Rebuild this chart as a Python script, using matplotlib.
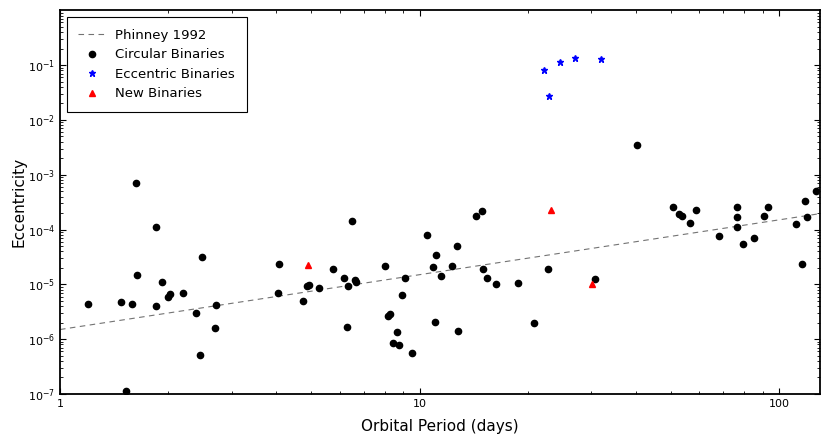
import numpy as np
import matplotlib
matplotlib.use("Agg")
import matplotlib.pyplot as plt
from matplotlib.ticker import FixedLocator, LogLocator, NullFormatter, FormatStrFormatter

# circular binaries: period (days), eccentricity
circ_period = [1.196, 1.478, 1.529, 1.582, 1.624, 1.635, 1.854, 1.854, 1.919, 2.002,
               2.024, 2.195, 2.390, 2.453, 2.480, 2.706, 2.718, 4.045, 4.078, 4.755,
               4.86, 4.932, 5.26, 5.727, 6.183, 6.264, 6.305, 6.509, 6.622, 6.678,
               8.04, 8.145, 8.286, 8.433, 8.667, 8.763, 8.948, 9.124, 9.543, 10.46,
               10.92, 11.04, 11.13, 11.51, 12.33, 12.71, 12.82, 14.36, 14.92, 15.01,
               15.37, 16.32, 18.74, 20.77, 22.71, 30.77, 40.35, 50.74, 52.6, 53.75,
               56.42, 58.65, 67.96, 76.43, 76.43, 76.6, 79.6, 85.0, 91.07, 93.3,
               111.1, 116.0, 117.7, 119.9, 126.3]
circ_ecc = [4.38e-6, 4.82e-6, 1.13e-7, 4.33e-6, 6.97e-4, 1.46e-5, 1.10e-4, 4.03e-6, 1.09e-5, 5.81e-6,
            6.75e-6, 7.05e-6, 3.0e-6, 5.21e-7, 3.11e-5, 1.60e-6, 4.26e-6, 7.05e-6, 2.38e-5, 4.91e-6,
            9.33e-6, 9.73e-6, 8.47e-6, 1.91e-5, 1.29e-5, 1.64e-6, 9.33e-6, 1.43e-4, 1.20e-5, 1.12e-5,
            2.16e-5, 2.68e-6, 2.88e-6, 8.41e-7, 1.33e-6, 7.92e-7, 6.31e-6, 1.29e-5, 5.60e-7, 8.03e-5,
            2.05e-5, 2.03e-6, 3.43e-5, 1.40e-5, 2.16e-5, 5.07e-5, 1.39e-6, 1.74e-4, 2.20e-4, 1.91e-5,
            1.29e-5, 1.01e-5, 1.05e-5, 2.0e-6, 1.88e-5, 1.27e-5, 3.52e-3, 2.61e-4, 1.94e-4, 1.79e-4,
            1.30e-4, 2.30e-4, 7.52e-5, 2.58e-4, 1.69e-4, 1.10e-4, 5.37e-5, 6.92e-5, 1.76e-4, 2.58e-4,
            1.28e-4, 2.38e-5, 3.31e-4, 1.69e-4, 5.03e-4]

ecc_period = [22.19, 22.86, 24.59, 27.07, 32.05]
ecc_ecc = [0.0811, 0.0275, 0.112, 0.136, 0.130]

new_period = [4.90, 23.26, 30.24]
new_ecc = [2.30e-5, 2.27e-4, 1.00e-5]

# Phinney 1992 relation
phinney_coeff = 1.5e-6
phinney_p = np.array([1.0, 130.0])

plt.rcParams['font.family'] = ['DejaVu Sans']
fig = plt.figure(figsize=(8.3, 4.43), dpi=100)
ax = fig.add_axes([0.0723, 0.1106, 0.9157, 0.8664])

ax.plot(phinney_p, phinney_coeff * phinney_p, '--', color='0.45', lw=0.8,
        dashes=(5, 4), label='Phinney 1992')
ax.plot(circ_period, circ_ecc, 'o', color='k', ms=4.5, mec='k', label='Circular Binaries')
ax.plot(ecc_period, ecc_ecc, '*', color='b', ms=5.0, mec='b', label='Eccentric Binaries')
ax.plot(new_period, new_ecc, '^', color='r', ms=5.0, mec='r', label='New Binaries')

ax.set_xscale('log')
ax.set_yscale('log')
ax.set_xlim(1, 130)
ax.set_ylim(1e-7, 1)

ax.xaxis.set_major_locator(FixedLocator([1, 10, 100]))
ax.xaxis.set_major_formatter(FormatStrFormatter('%g'))
ax.xaxis.set_minor_locator(LogLocator(base=10, subs=np.arange(2, 10)))
ax.xaxis.set_minor_formatter(NullFormatter())
ax.yaxis.set_major_locator(FixedLocator([10.0 ** k for k in range(-7, 0)]))
ax.yaxis.set_minor_locator(LogLocator(base=10, subs=np.arange(2, 10), numticks=20))
ax.yaxis.set_minor_formatter(NullFormatter())

ax.tick_params(which='both', direction='in', top=True, right=True, labelsize=8)
ax.tick_params(which='major', length=4, width=0.8)
ax.tick_params(which='minor', length=2, width=0.6)
for s in ax.spines.values():
    s.set_linewidth(1.3)

ax.set_xlabel('Orbital Period (days)', fontsize=11, labelpad=7)
ax.set_ylabel('Eccentricity', fontsize=11, labelpad=1)

leg = ax.legend(loc='upper left', numpoints=1, fontsize=9.5, fancybox=False,
                framealpha=1, edgecolor='k', borderpad=0.9, labelspacing=0.5,
                handlelength=2.0, borderaxespad=0.5)
leg.get_frame().set_linewidth(0.8)

fig.savefig('out.png', dpi=100, facecolor='white')
